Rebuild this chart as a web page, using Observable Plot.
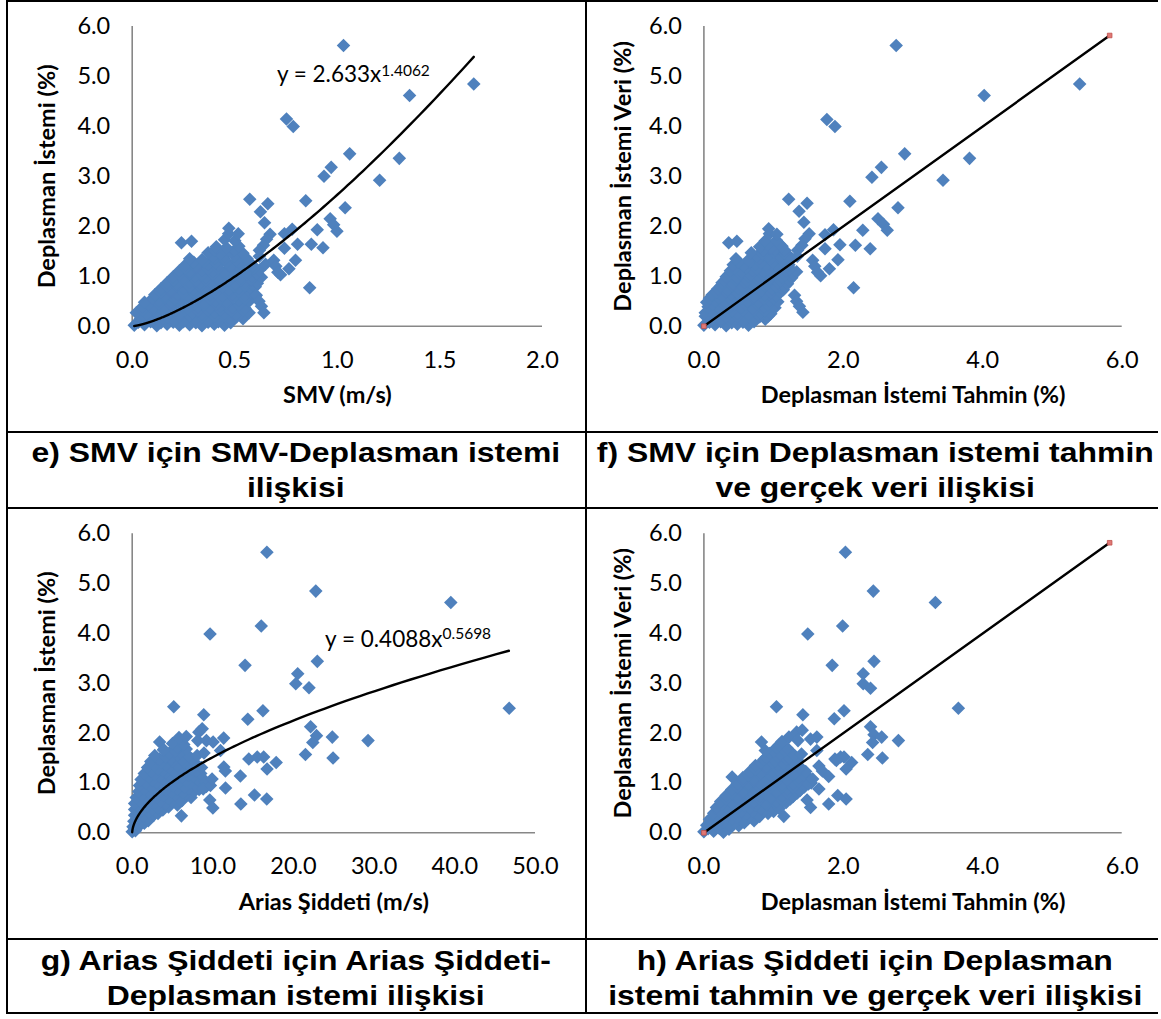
<!DOCTYPE html>
<html>
<head>
<meta charset="utf-8">
<script src="https://cdn.jsdelivr.net/npm/d3@7"></script>
<script src="https://cdn.jsdelivr.net/npm/@observablehq/plot@0.6"></script>
<style>
  body { margin: 0; background: #fff; }
  #page { position: relative; width: 1161px; height: 1019px; overflow: hidden; background: #fff; }
  .panel { position: absolute; }
  .cap { position: absolute; font-family: "Liberation Sans", Arial, sans-serif; font-weight: bold; font-size: 28px; line-height: 35px; color: #000; text-align: center; }
  .cap div { height: 35px; white-space: nowrap; }
  .cap span { display: inline-block; transform: scaleX(1.14); transform-origin: 50% 50%; }
  .hl { position: absolute; height: 2px; background: #000; }
  .vl { position: absolute; width: 2px; background: #000; }
</style>
</head>
<body>
<div id="page"></div>
<script>
// ---------- tick values ----------
const yTicks = [0, 1, 2, 3, 4, 5, 6];
const xTicksE = [0, 0.5, 1, 1.5, 2];
const xTicksF = [0, 2, 4, 6];
const xTicksG = [0, 10, 20, 30, 40, 50];
const xTicksH = [0, 2, 4, 6];

// ---------- axis titles & captions ----------
const titlesE = ["SMV (m/s)", "Deplasman İstemi (%)"];
const titlesF = ["Deplasman İstemi Tahmin (%)", "Deplasman İstemi Veri (%)"];
const titlesG = ["Arias Şiddeti (m/s)", "Deplasman İstemi (%)"];
const titlesH = ["Deplasman İstemi Tahmin (%)", "Deplasman İstemi Veri (%)"];
const captionE = ["e) SMV için SMV-Deplasman istemi", "ilişkisi"];
const captionF = ["f) SMV için Deplasman istemi tahmin", "ve gerçek veri ilişkisi"];
const captionG = ["g) Arias Şiddeti için Arias Şiddeti-", "Deplasman istemi ilişkisi"];
const captionH = ["h) Arias Şiddeti için Deplasman", "istemi tahmin ve gerçek veri ilişkisi"];

// ---------- trend lines ----------
const fitE = [2.633, 1.4062];      // y = a x^b
const fitRangeE = [0.01, 1.665];
const eqE = ["y = 2.633x", "1.4062"];
const fitG = [0.4088, 0.5698];
const fitRangeG = [0.002, 46.7];
const eqG = ["y = 0.4088x", "0.5698"];
const lineF = [[0, 0], [5.82, 5.82]];
const lineH = [[0, 0], [5.82, 5.82]];

// ---------- e) (SMV, displacement) ----------
const clusterE = [
  [0.01,0.02],[0.06,0.03],[0.12,0.01],[0.17,0.04],[0.23,0.02],[0.28,0.03],[0.34,0.01],[0.40,0.04],[0.45,0.02],
  [0.03,0.08],[0.09,0.09],[0.14,0.07],[0.20,0.08],[0.25,0.09],[0.31,0.07],[0.37,0.08],[0.42,0.09],[0.48,0.07],
  [0.04,0.15],[0.09,0.13],[0.15,0.16],[0.20,0.12],[0.26,0.15],[0.31,0.14],[0.37,0.12],[0.42,0.16],[0.48,0.13],[0.54,0.15],
  [0.06,0.20],[0.12,0.21],[0.17,0.19],[0.23,0.20],[0.28,0.21],[0.34,0.19],[0.40,0.20],[0.45,0.21],[0.51,0.19],
  [0.02,0.27],[0.07,0.25],[0.12,0.28],[0.18,0.26],[0.23,0.24],[0.29,0.27],[0.34,0.25],[0.40,0.28],[0.45,0.26],[0.51,0.24],[0.57,0.27],
  [0.05,0.32],[0.10,0.33],[0.15,0.31],[0.21,0.32],[0.26,0.33],[0.32,0.31],[0.37,0.32],[0.43,0.33],[0.48,0.31],[0.54,0.32],
  [0.05,0.39],[0.10,0.37],[0.16,0.40],[0.21,0.38],[0.27,0.36],[0.32,0.39],[0.38,0.37],[0.43,0.40],[0.49,0.38],[0.55,0.36],
  [0.08,0.44],[0.13,0.45],[0.19,0.43],[0.24,0.44],[0.30,0.45],[0.35,0.43],[0.41,0.44],[0.46,0.45],[0.52,0.43],
  [0.06,0.48],[0.13,0.51],[0.19,0.49],[0.24,0.52],[0.30,0.50],[0.35,0.48],[0.41,0.51],[0.46,0.49],[0.52,0.52],[0.57,0.50],
  [0.10,0.56],[0.16,0.57],[0.21,0.55],[0.27,0.56],[0.32,0.57],[0.38,0.55],[0.43,0.56],[0.49,0.57],[0.55,0.55],
  [0.11,0.63],[0.16,0.61],[0.22,0.64],[0.27,0.62],[0.33,0.60],[0.38,0.63],[0.44,0.61],[0.49,0.64],[0.55,0.62],[0.60,0.60],
  [0.14,0.68],[0.19,0.69],[0.25,0.67],[0.30,0.68],[0.36,0.69],[0.41,0.67],[0.47,0.68],[0.52,0.69],[0.58,0.67],
  [0.14,0.75],[0.19,0.73],[0.25,0.76],[0.30,0.74],[0.36,0.72],[0.41,0.75],[0.47,0.73],[0.52,0.76],[0.58,0.74],
  [0.17,0.80],[0.22,0.81],[0.28,0.79],[0.33,0.80],[0.39,0.81],[0.44,0.79],[0.50,0.80],[0.55,0.81],[0.60,0.79],
  [0.17,0.87],[0.22,0.85],[0.28,0.88],[0.33,0.86],[0.39,0.84],[0.44,0.87],[0.50,0.85],[0.55,0.88],[0.61,0.86],
  [0.20,0.92],[0.25,0.93],[0.31,0.91],[0.36,0.92],[0.42,0.93],[0.47,0.91],[0.53,0.92],[0.58,0.93],
  [0.20,0.99],[0.25,0.97],[0.31,1.00],[0.36,0.98],[0.42,0.96],[0.47,0.99],[0.53,0.97],[0.58,1.00],[0.63,0.98],
  [0.23,1.04],[0.28,1.05],[0.34,1.03],[0.39,1.04],[0.45,1.05],[0.50,1.03],[0.56,1.04],[0.61,1.05],
  [0.23,1.11],[0.28,1.09],[0.34,1.12],[0.39,1.10],[0.45,1.08],[0.50,1.11],[0.56,1.09],[0.62,1.12],
  [0.26,1.16],[0.31,1.17],[0.37,1.15],[0.42,1.16],[0.48,1.17],[0.53,1.15],[0.59,1.16],
  [0.26,1.23],[0.31,1.21],[0.37,1.24],[0.42,1.22],[0.48,1.20],[0.53,1.23],[0.59,1.21],[0.65,1.24],
  [0.30,1.28],[0.35,1.29],[0.41,1.27],[0.46,1.28],[0.52,1.29],[0.57,1.27],
  [0.28,1.35],[0.34,1.33],[0.40,1.36],[0.45,1.34],[0.51,1.32],[0.56,1.35],
  [0.39,1.40],[0.45,1.41],[0.50,1.40],
  [0.37,1.47],[0.43,1.45],[0.48,1.48],[0.54,1.46],
  [0.40,1.52],[0.45,1.53],[0.50,1.52],
  [0.41,1.59],[0.46,1.57],[0.52,1.60],
  [0.45,1.73],[0.50,1.71],[0.47,1.85]
];
const pointsE = [
  [0.573,2.54],[0.661,2.45],[0.846,2.51],[0.625,2.29],[0.645,2.07],[0.471,1.96],[0.517,1.85],[0.240,1.67],[0.289,1.70],
  [0.672,1.84],[0.655,1.74],[0.640,1.62],[0.620,1.52],[0.742,1.85],[0.780,1.94],[0.902,1.93],[0.806,1.64],[0.873,1.64],
  [0.930,1.57],[0.742,1.56],[0.690,1.32],[0.796,1.32],[0.764,1.15],[0.723,1.03],[0.865,0.77],[0.605,0.62],[0.618,0.50],
  [0.630,0.40],[0.642,0.27],[0.620,1.40],[0.700,1.20],[0.710,1.08],
  [1.030,5.62],[1.665,4.85],[1.352,4.62],[0.752,4.15],[0.785,4.00],[1.060,3.45],[1.302,3.36],[0.970,3.18],[0.935,3.00],
  [1.206,2.92],[1.038,2.37],[0.965,2.15],[0.982,2.03],[0.998,1.90]
];

// ---------- f) (predicted, observed) for SMV ----------
const clusterF = [
  [0.00,0.02],[0.16,0.03],[0.32,0.01],[0.48,0.04],[0.64,0.02],
  [0.08,0.08],[0.24,0.09],[0.40,0.07],[0.56,0.08],[0.72,0.09],
  [0.08,0.15],[0.24,0.13],[0.40,0.16],[0.56,0.12],[0.72,0.15],[0.88,0.14],
  [0.02,0.20],[0.16,0.21],[0.32,0.19],[0.48,0.20],[0.64,0.21],[0.80,0.19],[0.92,0.20],
  [0.02,0.27],[0.16,0.25],[0.32,0.28],[0.48,0.26],[0.64,0.24],[0.80,0.27],[0.96,0.25],
  [0.08,0.32],[0.24,0.33],[0.40,0.31],[0.56,0.32],[0.72,0.33],[0.88,0.31],
  [0.06,0.39],[0.22,0.37],[0.38,0.40],[0.54,0.38],[0.70,0.36],[0.86,0.39],[1.02,0.37],
  [0.12,0.44],[0.28,0.45],[0.44,0.43],[0.60,0.44],[0.76,0.45],[0.92,0.43],
  [0.04,0.48],[0.16,0.51],[0.30,0.49],[0.46,0.52],[0.62,0.50],[0.78,0.48],[0.94,0.51],[1.06,0.49],
  [0.08,0.56],[0.22,0.57],[0.38,0.55],[0.54,0.56],[0.70,0.57],[0.86,0.55],[1.00,0.56],
  [0.12,0.63],[0.26,0.61],[0.40,0.64],[0.56,0.62],[0.72,0.60],[0.88,0.63],[1.04,0.61],
  [0.18,0.68],[0.32,0.69],[0.48,0.67],[0.64,0.68],[0.80,0.69],[0.96,0.67],[1.10,0.68],
  [0.20,0.75],[0.34,0.73],[0.50,0.76],[0.66,0.74],[0.82,0.72],[0.98,0.75],[1.14,0.73],
  [0.24,0.80],[0.40,0.81],[0.56,0.79],[0.72,0.80],[0.88,0.81],[1.04,0.79],[1.16,0.80],
  [0.26,0.87],[0.42,0.85],[0.58,0.88],[0.74,0.86],[0.90,0.84],[1.06,0.87],[1.20,0.85],
  [0.30,0.92],[0.46,0.93],[0.62,0.91],[0.78,0.92],[0.94,0.93],[1.10,0.91],[1.22,0.92],
  [0.32,0.99],[0.48,0.97],[0.64,1.00],[0.80,0.98],[0.96,0.96],[1.12,0.99],[1.26,0.97],
  [0.36,1.04],[0.52,1.05],[0.68,1.03],[0.84,1.04],[1.00,1.05],[1.16,1.03],[1.28,1.04],
  [0.38,1.11],[0.54,1.09],[0.70,1.12],[0.86,1.10],[1.02,1.08],[1.18,1.11],[1.33,1.09],
  [0.44,1.16],[0.60,1.17],[0.76,1.15],[0.92,1.16],[1.08,1.17],[1.24,1.15],
  [0.42,1.23],[0.58,1.21],[0.74,1.24],[0.90,1.22],[1.06,1.20],[1.22,1.23],
  [0.50,1.28],[0.66,1.29],[0.82,1.27],[0.98,1.28],[1.14,1.29],
  [0.46,1.35],[0.64,1.33],[0.80,1.36],[0.96,1.34],[1.12,1.32],[1.26,1.35],
  [0.76,1.40],[0.92,1.41],[1.08,1.40],[1.22,1.41],
  [0.68,1.47],[0.84,1.45],[1.00,1.48],[1.16,1.46],
  [0.86,1.52],[1.02,1.53],[1.16,1.52],
  [0.80,1.59],[0.96,1.57],[1.12,1.60],
  [0.92,1.64],[1.08,1.65],
  [0.88,1.71],[1.04,1.72],[0.94,1.85]
];
const pointsF = [
  [1.216,2.54],[1.48,2.46],[2.094,2.50],[1.365,2.30],[1.434,2.08],[0.929,1.95],[1.047,1.84],[0.356,1.67],[0.473,1.70],
  [1.51,1.85],[1.45,1.75],[1.406,1.62],[1.344,1.52],[1.737,1.83],[1.859,1.93],[2.279,1.92],[1.951,1.63],[2.173,1.62],
  [2.385,1.55],[1.737,1.55],[1.56,1.32],[1.923,1.33],[1.80,1.15],[1.674,1.01],[2.147,0.77],[1.30,0.62],[1.33,0.50],
  [1.37,0.40],[1.42,0.28],[1.34,1.40],[1.59,1.20],[1.63,1.08],
  [2.758,5.62],[5.39,4.85],[4.02,4.62],[1.764,4.14],[1.880,4.00],[2.88,3.45],[3.81,3.36],[2.546,3.18],[2.41,2.98],
  [3.43,2.92],[2.784,2.37],[2.497,2.15],[2.576,2.04],[2.63,1.92]
];

// ---------- g) (Arias intensity, displacement) ----------
const clusterG = [
  [0.0,0.02],[0.4,0.04],[0.3,0.08],
  [0.1,0.12],[0.9,0.14],[0.5,0.18],[1.5,0.19],
  [0.2,0.23],[1.1,0.21],[2.0,0.24],[0.7,0.28],[1.9,0.29],
  [0.3,0.35],[1.4,0.33],[2.7,0.36],[0.8,0.40],[2.0,0.41],[3.2,0.39],
  [0.3,0.47],[1.2,0.45],[2.5,0.48],[3.8,0.46],[0.8,0.52],[1.9,0.53],[3.2,0.51],[4.5,0.52],
  [0.3,0.59],[1.4,0.57],[2.8,0.60],[4.2,0.58],[5.6,0.56],[1.0,0.64],[2.2,0.65],[3.5,0.63],[4.9,0.64],[6.2,0.65],
  [0.5,0.71],[1.7,0.69],[3.1,0.72],[4.5,0.70],[5.9,0.68],[7.3,0.71],[1.2,0.76],[2.5,0.77],[3.9,0.75],[5.3,0.76],[6.6,0.77],
  [0.8,0.83],[2.1,0.81],[3.5,0.84],[4.9,0.82],[6.3,0.80],[7.7,0.83],[1.5,0.88],[2.8,0.89],[4.2,0.87],[5.6,0.88],[7.0,0.89],[8.3,0.87],
  [0.9,0.95],[2.3,0.93],[3.7,0.96],[5.1,0.94],[6.5,0.92],[7.9,0.95],[9.2,0.93],
  [1.7,1.00],[3.0,1.01],[4.4,0.99],[5.8,1.00],[7.2,1.01],[8.6,0.99],
  [1.1,1.07],[2.5,1.05],[3.9,1.08],[5.3,1.06],[6.7,1.04],[8.1,1.07],[9.0,1.05],
  [2.1,1.12],[3.4,1.13],[4.8,1.11],[6.2,1.12],[7.6,1.13],
  [1.5,1.19],[2.8,1.17],[4.2,1.20],[5.6,1.18],[7.0,1.16],[8.5,1.19],
  [2.4,1.24],[3.8,1.25],[5.2,1.23],[6.6,1.24],[7.9,1.25],
  [1.9,1.31],[3.2,1.29],[4.6,1.32],[6.0,1.30],[7.4,1.28],[8.6,1.31],
  [2.8,1.36],[4.2,1.37],[5.6,1.35],[7.0,1.36],[8.0,1.37],
  [2.3,1.43],[3.6,1.41],[5.0,1.44],[6.4,1.42],[7.8,1.40],
  [3.4,1.48],[4.8,1.49],[6.2,1.47],[7.4,1.48],
  [2.8,1.55],[4.2,1.53],[5.6,1.56],[7.0,1.54],[4.6,1.60],[6.0,1.61],
  [3.9,1.67],[5.3,1.65],[6.7,1.68],[5.6,1.72],
  [5.0,1.79],[6.4,1.77],[5.8,1.91]
];
const pointsG = [
  [5.15,2.53],[8.87,2.37],[14.33,2.28],[16.21,2.45],[22.12,2.13],[22.85,1.95],[22.39,1.81],[21.48,1.57],[3.40,1.82],
  [3.90,1.66],[6.70,1.93],[8.26,2.02],[8.68,2.09],[8.13,1.85],[9.2,1.85],[11.34,1.90],[10.03,1.82],[10.95,1.65],
  [8.05,1.55],[8.9,1.60],[14.46,1.48],[15.5,1.52],[16.3,1.52],[17.85,1.41],[16.72,1.28],[11.36,1.32],[11.55,1.24],
  [13.41,1.14],[11.57,0.90],[15.16,0.76],[16.68,0.68],[13.47,0.58],[9.62,0.66],[10.0,0.50],[6.10,0.34],[8.8,0.88],
  [9.7,0.95],[9.9,1.08],
  [16.7,5.63],[22.76,4.85],[39.5,4.62],[16.0,4.15],[9.65,3.99],[22.95,3.44],[13.99,3.36],[20.52,3.19],[20.28,2.99],
  [21.92,2.91],[46.74,2.50],[24.81,1.92],[29.24,1.85],[24.9,1.50]
];

// ---------- h) (predicted, observed) for Arias ----------
const clusterH = [
  [0.00,0.02],[0.14,0.03],[0.28,0.01],[0.06,0.08],[0.22,0.09],[0.36,0.07],
  [0.04,0.15],[0.20,0.13],[0.36,0.16],[0.50,0.14],[0.12,0.20],[0.28,0.21],[0.44,0.19],[0.58,0.20],
  [0.08,0.27],[0.24,0.25],[0.40,0.28],[0.56,0.26],[0.72,0.24],[0.16,0.32],[0.32,0.33],[0.48,0.31],[0.64,0.32],[0.80,0.33],
  [0.14,0.39],[0.30,0.37],[0.46,0.40],[0.62,0.38],[0.78,0.36],[0.92,0.39],
  [0.22,0.44],[0.38,0.45],[0.54,0.43],[0.70,0.44],[0.86,0.45],[1.00,0.43],
  [0.18,0.51],[0.34,0.49],[0.50,0.52],[0.66,0.50],[0.82,0.48],[0.98,0.51],[1.08,0.49],
  [0.26,0.56],[0.42,0.57],[0.58,0.55],[0.74,0.56],[0.90,0.57],[1.06,0.55],
  [0.24,0.63],[0.40,0.61],[0.56,0.64],[0.72,0.62],[0.88,0.60],[1.04,0.63],[1.18,0.61],
  [0.32,0.68],[0.48,0.69],[0.64,0.67],[0.80,0.68],[0.96,0.69],[1.12,0.67],[1.24,0.68],
  [0.32,0.75],[0.48,0.73],[0.64,0.76],[0.80,0.74],[0.96,0.72],[1.12,0.75],[1.28,0.73],
  [0.40,0.80],[0.56,0.81],[0.72,0.79],[0.88,0.80],[1.04,0.81],[1.20,0.79],[1.34,0.80],
  [0.40,0.87],[0.56,0.85],[0.72,0.88],[0.88,0.86],[1.04,0.84],[1.20,0.87],[1.38,0.85],
  [0.48,0.92],[0.64,0.93],[0.80,0.91],[0.96,0.92],[1.12,0.93],[1.28,0.91],[1.44,0.92],
  [0.48,0.99],[0.64,0.97],[0.80,1.00],[0.96,0.98],[1.12,0.96],[1.28,0.99],[1.44,0.97],[1.54,1.00],
  [0.56,1.04],[0.72,1.05],[0.88,1.03],[1.04,1.04],[1.20,1.05],[1.36,1.03],[1.50,1.04],
  [0.56,1.11],[0.72,1.09],[0.88,1.12],[1.04,1.10],[1.20,1.08],[1.36,1.11],[1.52,1.09],
  [0.64,1.16],[0.80,1.17],[0.96,1.15],[1.12,1.16],[1.28,1.17],[1.44,1.15],
  [0.66,1.23],[0.82,1.21],[0.98,1.24],[1.14,1.22],[1.30,1.20],[1.46,1.23],
  [0.74,1.28],[0.90,1.29],[1.06,1.27],[1.22,1.28],[1.38,1.29],
  [0.74,1.35],[0.90,1.33],[1.06,1.36],[1.22,1.34],[1.38,1.32],
  [0.82,1.40],[0.98,1.41],[1.14,1.39],[1.30,1.40],
  [0.86,1.47],[1.02,1.45],[1.18,1.48],[1.34,1.46],
  [0.90,1.52],[1.06,1.53],[1.22,1.51],
  [0.94,1.59],[1.10,1.57],[1.26,1.60],[1.00,1.64],[1.16,1.65],
  [1.04,1.71],[1.20,1.69],[1.08,1.76],[1.12,1.83]
];
const pointsH = [
  [1.041,2.53],[1.42,2.37],[1.87,2.29],[2.01,2.45],[2.39,2.13],[2.44,1.97],[2.55,1.92],[2.42,1.81],[0.826,1.82],
  [0.88,1.65],[1.22,1.92],[1.33,2.02],[1.41,2.06],[1.53,1.88],[1.62,1.92],[1.62,1.65],[1.35,1.85],[1.30,1.55],
  [1.40,1.58],[1.88,1.48],[1.96,1.52],[2.01,1.52],[2.12,1.41],[2.04,1.28],[1.65,1.34],[1.70,1.24],[1.79,1.13],
  [1.65,0.88],[1.92,0.75],[2.04,0.68],[1.79,0.58],[1.53,0.51],[1.48,0.66],[1.146,0.33],[0.405,1.12],[2.35,1.57],
  [1.50,0.98],[1.56,1.08],
  [2.03,5.63],[2.43,4.85],[3.32,4.62],[1.99,4.15],[1.49,3.99],[2.44,3.44],[1.84,3.36],[2.285,3.19],[2.285,2.99],
  [2.39,2.90],[3.65,2.50],[2.79,1.85],[2.56,1.50],[1.90,1.45]
];

// ---------- drawing ----------
const fmt = d3.format(".1f");
const BLUE = "#4F81BD";
const AXIS = "#878787";

function powerCurve([a, b], [x0, x1]) {
  return d3.range(0, 301).map(i => {
    const x = x0 * Math.pow(x1 / x0, i / 300);
    return [x, a * Math.pow(x, b)];
  });
}

function panel(cfg) {
  const marks = [
    Plot.ruleX([0], {stroke: AXIS, strokeWidth: 1.6}),
    Plot.ruleY([0], {stroke: AXIS, strokeWidth: 1.6}),
    Plot.axisX({ticks: cfg.xTicks, tickSize: 0, tickPadding: 25, tickFormat: fmt, fontSize: 23.5, label: null}),
    Plot.axisY({ticks: yTicks, tickSize: 0, tickPadding: 22, tickFormat: fmt, fontSize: 23.5, label: null}),
    Plot.dot(cfg.points, {x: d => d[0], y: d => d[1], symbol: "diamond2", r: 6.1, fill: BLUE}),
    Plot.text([cfg.titles[0]], {frameAnchor: "bottom", textAnchor: "middle", lineAnchor: "middle", dy: 69.3, fontWeight: "bold", fontSize: 23.5}),
    Plot.text([cfg.titles[1]], {frameAnchor: "left", textAnchor: "middle", lineAnchor: "middle", rotate: -90, dx: -cfg.yTitleDx, fontWeight: "bold", fontSize: 23.5})
  ];
  if (cfg.fit) {
    marks.push(Plot.line(powerCurve(cfg.fit, cfg.fitRange), {x: d => d[0], y: d => d[1], stroke: "#000", strokeWidth: 2.4}));
    marks.push(Plot.text([cfg.eq[0]], {x: cfg.eqAt[0], y: cfg.eqAt[1], textAnchor: "end", lineAnchor: "bottom", fontSize: 22.5}));
    marks.push(Plot.text([cfg.eq[1]], {x: cfg.eqAt[0], y: cfg.eqAt[1], dy: cfg.supDy, textAnchor: "start", lineAnchor: "bottom", fontSize: 15.5}));
  }
  if (cfg.line) {
    marks.push(Plot.line(cfg.line, {x: d => d[0], y: d => d[1], stroke: "#000", strokeWidth: 2.4}));
    marks.push(Plot.dot(cfg.line, {x: d => d[0], y: d => d[1], symbol: "square", r: 2.6, fill: "#E07875", stroke: "#C0504D", strokeWidth: 0.8}));
  }
  const chart = Plot.plot({
    width: cfg.width, height: cfg.height,
    marginLeft: cfg.ml, marginRight: cfg.mr, marginTop: cfg.mt, marginBottom: cfg.mb,
    x: {domain: cfg.xDomain},
    y: {domain: [0, 6]},
    style: {fontFamily: "Lato, 'Open Sans', sans-serif", fontSize: "23px", color: "#000", background: "transparent", overflow: "visible"},
    marks
  });
  const wrap = document.createElement("div");
  wrap.className = "panel";
  wrap.style.left = cfg.left + "px";
  wrap.style.top = cfg.top + "px";
  wrap.appendChild(chart);
  document.getElementById("page").appendChild(wrap);
}

panel({left: 0, top: 0, width: 585, height: 430, ml: 131.7, mr: 43, mt: 26, mb: 104.3,
  xDomain: [0, 2], xTicks: xTicksE, titles: titlesE, yTitleDx: 84.7, points: clusterE.concat(pointsE),
  fit: fitE, fitRange: fitRangeE, eq: eqE, eqAt: [1.214, 4.885], supDy: -6});
panel({left: 586, top: 0, width: 575, height: 430, ml: 117.4, mr: 39.3, mt: 26, mb: 104.3,
  xDomain: [0, 6], xTicks: xTicksF, titles: titlesF, yTitleDx: 80.8, points: clusterF.concat(pointsF), line: lineF});
panel({left: 0, top: 508, width: 585, height: 430, ml: 131.7, mr: 50, mt: 25.3, mb: 105.7,
  xDomain: [0, 50], xTicks: xTicksG, titles: titlesG, yTitleDx: 84.7, points: clusterG.concat(pointsG),
  fit: fitG, fitRange: fitRangeG, eq: eqG, eqAt: [38.47, 3.725], supDy: -8});
panel({left: 586, top: 508, width: 575, height: 430, ml: 117.4, mr: 39.3, mt: 25.3, mb: 105.7,
  xDomain: [0, 6], xTicks: xTicksH, titles: titlesH, yTitleDx: 80.8, points: clusterH.concat(pointsH), line: lineH});

// ---------- captions ----------
function caption(lines, left, top, width) {
  const d = document.createElement("div");
  d.className = "cap";
  d.style.left = left + "px"; d.style.top = top + "px"; d.style.width = width + "px";
  for (const l of lines) {
    const row = document.createElement("div");
    const s = document.createElement("span");
    s.textContent = l;
    row.appendChild(s);
    d.appendChild(row);
  }
  document.getElementById("page").appendChild(d);
}
caption(captionE, 7, 435, 578);
caption(captionF, 589, 435, 572);
caption(captionG, 7, 942.5, 578);
caption(captionH, 589, 942.5, 572);

// ---------- table rules ----------
function rule(cls, left, top, size) {
  const d = document.createElement("div");
  d.className = cls;
  d.style.left = left + "px"; d.style.top = top + "px";
  if (cls === "hl") d.style.width = size + "px"; else d.style.height = size + "px";
  document.getElementById("page").appendChild(d);
}
rule("hl", 6, 0, 1152);
rule("hl", 6, 431, 1152);
rule("hl", 6, 507, 1152);
rule("hl", 6, 938, 1152);
rule("hl", 6, 1012, 1152);
rule("vl", 6, 0, 1014);
rule("vl", 585, 0, 1014);
</script>
</body>
</html>
